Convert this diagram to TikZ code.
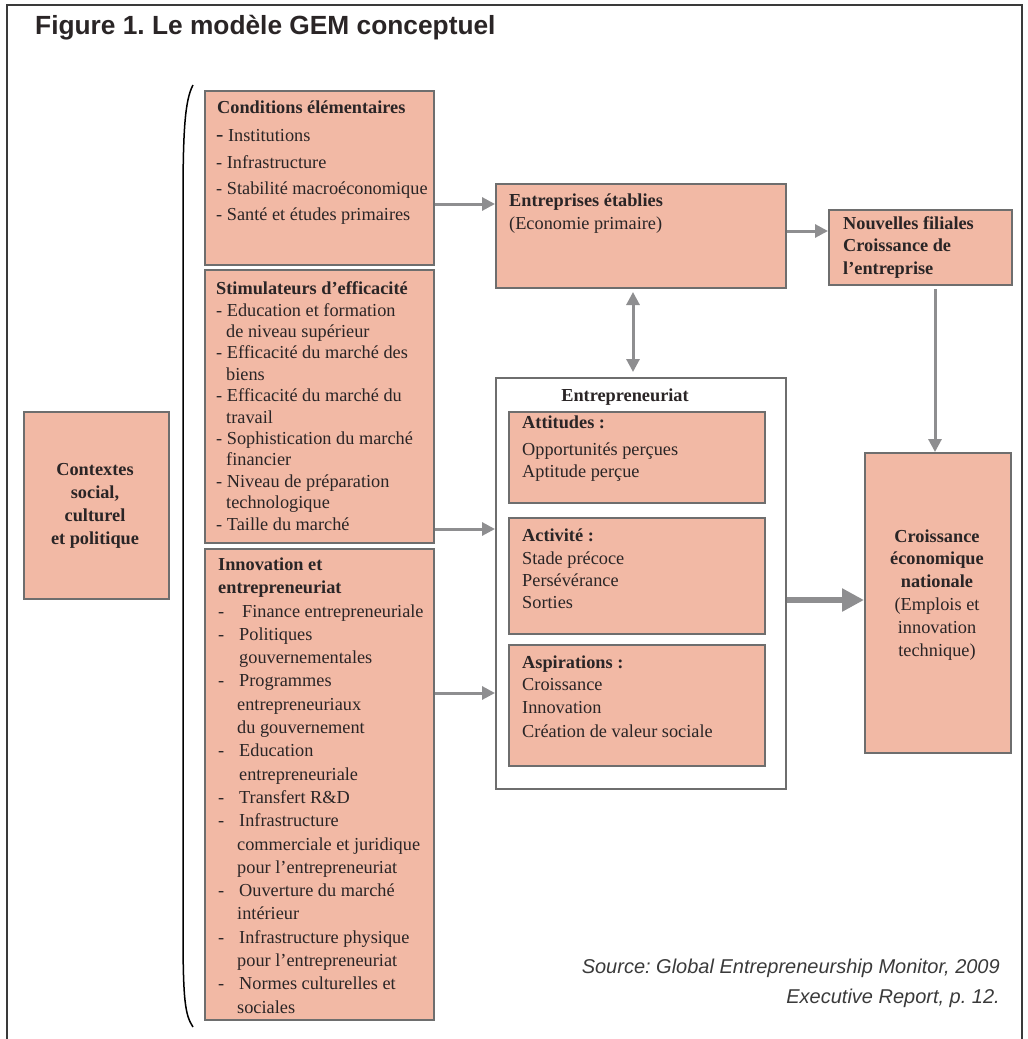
\documentclass[tikz,border=0pt]{standalone}
\usepackage{fontspec}
\setmainfont{Liberation Serif}
\newfontfamily\arialf{Liberation Sans}
\usetikzlibrary{arrows.meta}
\definecolor{salm}{HTML}{F2B9A5}
\definecolor{bordc}{HTML}{6E6E6E}
\definecolor{arrc}{HTML}{8E8E90}
\definecolor{txt}{HTML}{2A2526}
\definecolor{framec}{HTML}{3A3A3A}
\frenchspacing
\begin{document}
\begin{tikzpicture}[x=1pt,y=-1pt,
  box/.style={draw=bordc,line width=2pt,fill=salm,inner sep=0pt,anchor=north west},
  wbox/.style={box,fill=white},
  ln/.style={anchor=base west,inner sep=0pt,text=txt,font=\fontsize{18.3}{20}\selectfont},
  lb/.style={ln,font=\fontsize{18.3}{20}\selectfont\bfseries},
  lc/.style={ln,anchor=base},
  lcb/.style={lb,anchor=base},
  arr/.style={draw=arrc,line width=3pt,-{Triangle[length=13pt,width=13pt]}},
  darr/.style={draw=arrc,line width=3pt,{Triangle[length=13pt,width=13pt]}-{Triangle[length=13pt,width=13pt]}},
  tarr/.style={draw=arrc,line width=6.5pt,-{Triangle[length=22pt,width=22pt]}}
]
\useasboundingbox (0,0) rectangle (1028,1039);
\draw[framec,line width=2pt] (7,1039) -- (7,5) -- (1022,5) -- (1022,1039);
\node[anchor=base west,inner sep=0pt,text=txt,font=\arialf\fontsize{26.3}{28}\selectfont\bfseries] (title) at (35,34) {Figure 1. Le modèle GEM conceptuel};

% brace
\draw[black,line width=1.5pt] (193,85) .. controls (185,100) and (183,130) .. (183,200) -- (183,930) .. controls (183,1000) and (185,1015) .. (193,1027);

% boxes
\node[box,minimum width=145,minimum height=187] (ctx) at (23,411) {};
\node[box,minimum width=229,minimum height=174] (cond) at (204,90) {};
\node[box,minimum width=229,minimum height=273] (stim) at (204,269) {};
\node[box,minimum width=229,minimum height=471] (inno) at (204,548) {};
\node[box,minimum width=290,minimum height=104] (etab) at (495,183) {};
\node[box,minimum width=183,minimum height=75] (nouv) at (828,209) {};
\node[wbox,minimum width=290,minimum height=411] (entr) at (495,377) {};
\node[box,minimum width=256,minimum height=91] (att) at (508,411) {};
\node[box,minimum width=256,minimum height=116] (act) at (508,517) {};
\node[box,minimum width=256,minimum height=121] (asp) at (508,644) {};
\node[box,minimum width=146,minimum height=300] (croi) at (864,452) {};

% contextes
\foreach \tx [count=\i] in {Contextes,{social,},culturel,et politique}
  \node[lcb] (ctx-\i) at (95,{475+23*(\i-1)}) {\tx};

% conditions
\node[lb] (cond-t) at (217,113) {Conditions élémentaires};
\node[ln] (cond-1) at (216,141) {{\fontsize{22}{20}\selectfont -} Institutions};
\node[ln] (cond-2) at (216,168) {- Infrastructure};
\node[ln] (cond-3) at (216,194) {- Stabilité macroéconomique};
\node[ln] (cond-4) at (216,220) {- Santé et études primaires};

% stimulateurs
\node[lb] (stim-t) at (216,294) {Stimulateurs d’efficacité};
\foreach \xx/\tx [count=\i] in {216/{- Education et formation},226/{de niveau supérieur},216/{- Efficacité du marché des},226/{biens},216/{- Efficacité du marché du},226/{travail},216/{- Sophistication du marché},226/{financier},216/{- Niveau de préparation},226/{technologique},216/{- Taille du marché}}
  \node[ln] (stim-\i) at (\xx,{316+21.4*(\i-1)}) {\tx};

% innovation
\node[lb] (inno-t1) at (218,570) {Innovation et};
\node[lb] (inno-t2) at (218,593) {entrepreneuriat};
\foreach \dd/\xx/\tx [count=\i] in {1/242/{Finance entrepreneuriale},1/239/{Politiques},0/239/{gouvernementales},1/239/{Programmes},0/237/{entrepreneuriaux},0/237/{du gouvernement},1/239/{Education},0/239/{entrepreneuriale},1/239/{Transfert R\&D},1/239/{Infrastructure},0/237/{commerciale et juridique},0/237/{pour l’entrepreneuriat},1/239/{Ouverture du marché},0/237/{intérieur},1/239/{Infrastructure physique},0/237/{pour l’entrepreneuriat},1/239/{Normes culturelles et},0/237/{sociales}}
{
  \node[ln] (inno-\i) at (\xx,{617+23.3*(\i-1)}) {\tx};
  \ifnum\dd=1 \node[ln] (inno-d\i) at (218,{617+23.3*(\i-1)}) {-};\fi
}

% entreprises etablies
\node[lb] (etab-1) at (509,206) {Entreprises établies};
\node[ln] (etab-2) at (509,229) {(Economie primaire)};

% nouvelles filiales
\node[lb] (nouv-1) at (843,229) {Nouvelles filiales};
\node[lb] (nouv-2) at (843,251) {Croissance de};
\node[lb] (nouv-3) at (843,274) {l’entreprise};

% entrepreneuriat
\node[lcb] (entr-t) at (625,401) {Entrepreneuriat};
\node[lb] (att-1) at (522,428) {Attitudes :};
\node[ln] (att-2) at (522,455) {Opportunités perçues};
\node[ln] (att-3) at (522,477) {Aptitude perçue};
\node[lb] (act-1) at (522,541) {Activité :};
\node[ln] (act-2) at (522,564) {Stade précoce};
\node[ln] (act-3) at (522,586) {Persévérance};
\node[ln] (act-4) at (522,608) {Sorties};
\node[lb] (asp-1) at (522,668) {Aspirations :};
\node[ln] (asp-2) at (522,690) {Croissance};
\node[ln] (asp-3) at (522,713) {Innovation};
\node[ln] (asp-4) at (522,737) {Création de valeur sociale};

% croissance
\node[lcb] (croi-1) at (937,542) {Croissance};
\node[lcb] (croi-2) at (937,564) {économique};
\node[lcb] (croi-3) at (937,587) {nationale};
\node[lc] (croi-4) at (937,610) {(Emplois et};
\node[lc] (croi-5) at (937,633) {innovation};
\node[lc] (croi-6) at (937,656) {technique)};

% source
\node[anchor=base east,inner sep=0pt,text=framec,font=\arialf\itshape\fontsize{20}{22}\selectfont] (src1) at (1000,973) {Source: Global Entrepreneurship Monitor, 2009};
\node[anchor=base east,inner sep=0pt,text=framec,font=\arialf\itshape\fontsize{20}{22}\selectfont] (src2) at (1000,1003) {Executive Report, p. 12.};

% arrows
\draw[arr] ([yshift=-26pt]cond.east) -- ([yshift=-26pt]cond.east -| etab.west);
\draw[arr] ([yshift=-122.5pt]stim.east) -- ([yshift=-122.5pt]stim.east -| entr.west);
\draw[arr] ([yshift=91.5pt]inno.east) -- ([yshift=91.5pt]inno.east -| entr.west);
\draw[arr] ([yshift=5pt]etab.east) -- ([yshift=5pt]etab.east -| nouv.west);
\draw[arr,shorten <=3pt] ([xshift=14.5pt]nouv.south) -- ([xshift=14.5pt]nouv.south |- croi.north);
\draw[darr,shorten <=3pt,shorten >=5pt] ([xshift=-8pt]etab.south) -- ([xshift=-8pt]etab.south |- entr.north);
\draw[tarr] ([yshift=-16.5pt]entr.east) -- ([yshift=-16.5pt]entr.east -| croi.west);
\end{tikzpicture}
\end{document}
